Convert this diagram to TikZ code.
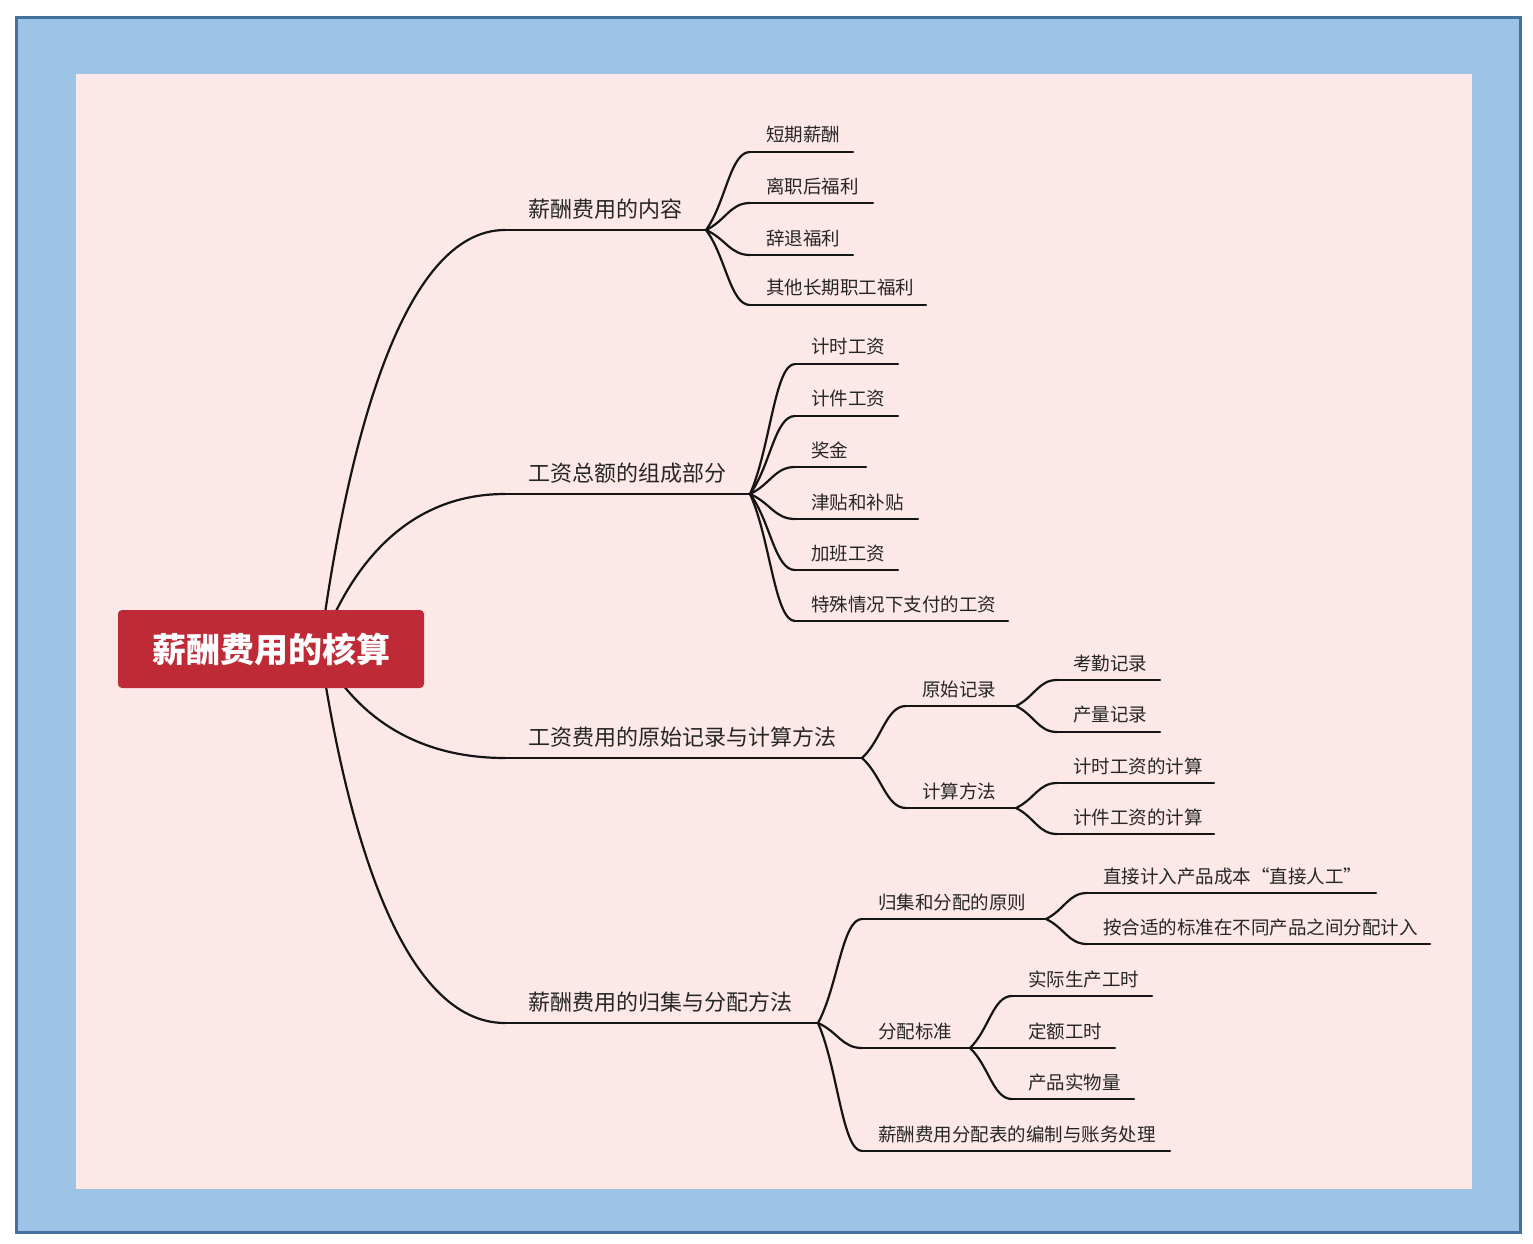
\documentclass[tikz,border=0pt]{standalone}
\usepackage{fontspec}
\setmainfont{Noto Sans CJK SC}
\usetikzlibrary{calc}
\definecolor{frameblue}{HTML}{9DC3E6}
\definecolor{frameline}{HTML}{41719C}
\definecolor{paper}{HTML}{FDE8E8}
\definecolor{rootred}{HTML}{BE2B37}
\definecolor{inkc}{HTML}{151515}
\definecolor{txt}{HTML}{262626}
\tikzset{
  link/.style={draw=inkc, line width=2.2pt, line cap=round},
  lone/.style={anchor=west, inner sep=0pt, text=txt, font=\fontsize{22}{26}\selectfont},
  ltwo/.style={anchor=west, inner sep=0pt, text=txt, font=\fontsize{18.5}{22}\selectfont},
  rootbox/.style={fill=rootred, rounded corners=4pt, minimum width=306pt, minimum height=78pt, text=white, font=\fontsize{34}{40}\selectfont\bfseries},
}
% #1 name, #2 x start, #3 x end, #4 y, #5 text
\newcommand\mmTopA[5]{%
  \coordinate (#1s) at (#2,#4); \coordinate (#1e) at (#3,#4);
  \node[lone] (#1) at ($(#1s)+(23,-21)$) {#5};
  \draw[link] (#1s) -- (#1e);}
\newcommand\mmTopB[5]{%
  \coordinate (#1s) at (#2,#4); \coordinate (#1e) at (#3,#4);
  \node[ltwo] (#1) at ($(#1s)+(16,-17)$) {#5};
  \draw[link] (#1s) -- (#1e);}
\newcommand\mmRootLink[2]{%
  \draw[link] let \p1=(#1), \p2=(#2) in (\p1) .. controls ({\x1+0.15*(\x2-\x1)},{\y1+0.5*(\y2-\y1)}) and ({\x1+0.45*(\x2-\x1)},\y2) .. (\p2);}
\newcommand\mmSubLink[2]{%
  \draw[link] let \p1=(#1), \p2=(#2) in (\p1) .. controls ({\x1+0.45*(\x2-\x1)},{\y1+0.35*(\y2-\y1)}) and ({\x1+0.55*(\x2-\x1)},\y2) .. (\p2);}
\begin{document}
\begin{tikzpicture}[x=1pt,y=-1pt]
\useasboundingbox (0,0) rectangle (1533,1244);
\fill[frameblue] (16.5,17.5) rectangle (1520.5,1232.5);
\draw[frameline, line width=3pt] (16.5,17.5) rectangle (1520.5,1232.5);
\fill[paper] (76,74) rectangle (1472,1189);

\coordinate (rootc) at (320,649);

% level 1
\mmTopA{A}{505}{706}{230}{薪酬费用的内容}
\mmTopA{B}{505}{750}{494}{工资总额的组成部分}
\mmTopA{C}{505}{862}{758}{工资费用的原始记录与计算方法}
\mmTopA{D}{505}{818}{1023}{薪酬费用的归集与分配方法}
\mmRootLink{rootc}{As}
\mmRootLink{rootc}{Bs}
\mmRootLink{rootc}{Cs}
\mmRootLink{rootc}{Ds}

% A children
\mmTopB{A1}{750}{853}{152}{短期薪酬}
\mmTopB{A2}{750}{873}{203}{离职后福利}
\mmTopB{A3}{750}{853}{255}{辞退福利}
\mmTopB{A4}{750}{926}{305}{其他长期职工福利}
\foreach \k in {A1,A2,A3,A4} {\mmSubLink{Ae}{\k s}}

% B children
\mmTopB{B1}{795}{898}{364}{计时工资}
\mmTopB{B2}{795}{898}{416}{计件工资}
\mmTopB{B3}{795}{866}{467}{奖金}
\mmTopB{B4}{795}{918}{519}{津贴和补贴}
\mmTopB{B5}{795}{898}{570}{加班工资}
\mmTopB{B6}{795}{1008}{621}{特殊情况下支付的工资}
\foreach \k in {B1,B2,B3,B4,B5,B6} {\mmSubLink{Be}{\k s}}

% C children
\mmTopB{C1}{906}{1016}{706}{原始记录}
\mmTopB{C2}{906}{1016}{808}{计算方法}
\foreach \k in {C1,C2} {\mmSubLink{Ce}{\k s}}
\mmTopB{C11}{1057}{1160}{680}{考勤记录}
\mmTopB{C12}{1057}{1160}{732}{产量记录}
\foreach \k in {C11,C12} {\mmSubLink{C1e}{\k s}}
\mmTopB{C21}{1057}{1214}{783}{计时工资的计算}
\mmTopB{C22}{1057}{1214}{834}{计件工资的计算}
\foreach \k in {C21,C22} {\mmSubLink{C2e}{\k s}}

% D children
\mmTopB{D1}{862}{1046}{919}{归集和分配的原则}
\mmTopB{D2}{862}{970}{1048}{分配标准}
\mmTopB{D3}{862}{1170}{1151}{薪酬费用分配表的编制与账务处理}
\foreach \k in {D1,D2,D3} {\mmSubLink{De}{\k s}}
\mmTopB{D11}{1087}{1376}{893}{直接计入产品成本“直接人工”}
\mmTopB{D12}{1087}{1430}{944}{按合适的标准在不同产品之间分配计入}
\foreach \k in {D11,D12} {\mmSubLink{D1e}{\k s}}
\mmTopB{D21}{1012}{1152}{996}{实际生产工时}
\mmTopB{D22}{1012}{1115}{1048}{定额工时}
\mmTopB{D23}{1012}{1134}{1099}{产品实物量}
\foreach \k in {D21,D22,D23} {\mmSubLink{D2e}{\k s}}

% root
\node[rootbox] (root) at (271,649) {};
\node[text=white, font=\fontsize{34}{40}\selectfont\bfseries, inner sep=0pt] (roottxt) at (root.center) {薪酬费用的核算};
\end{tikzpicture}
\end{document}
